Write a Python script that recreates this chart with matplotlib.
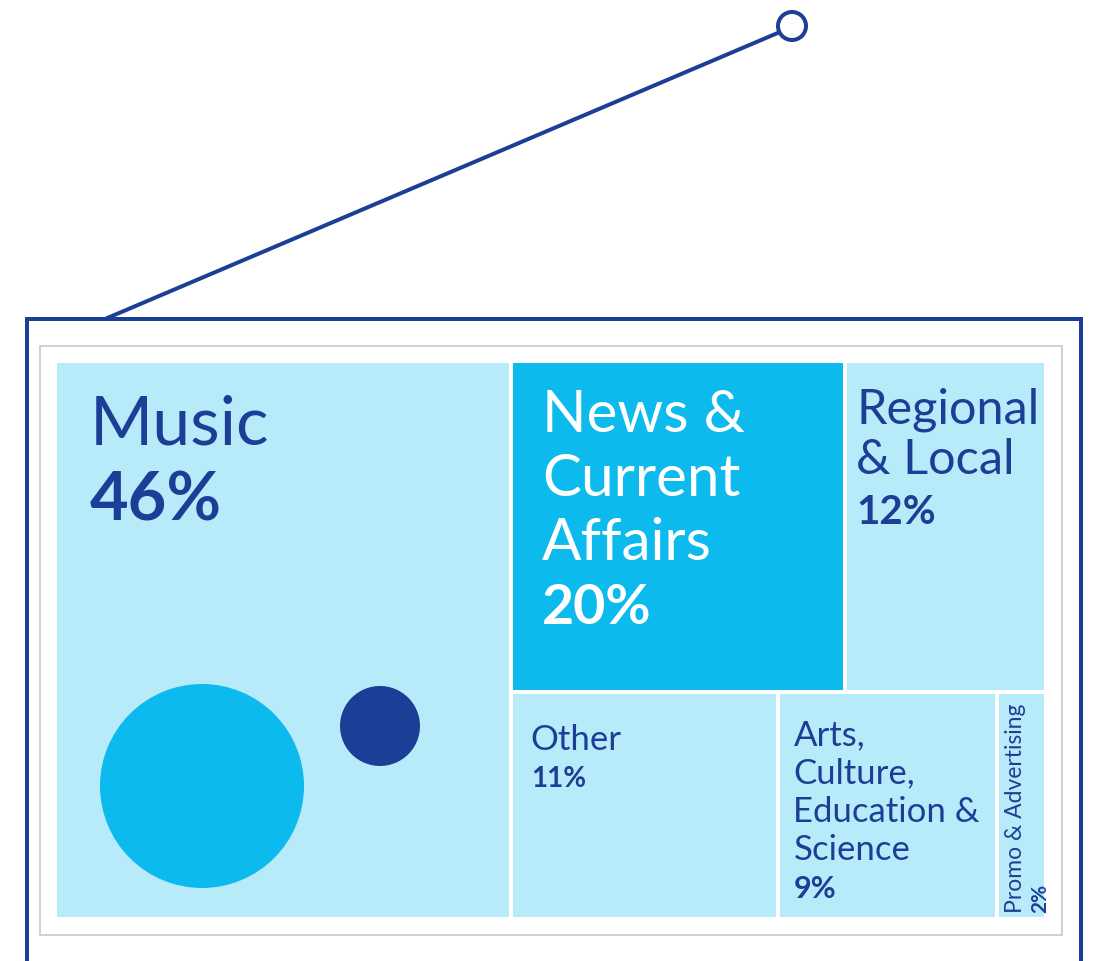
import matplotlib.pyplot as plt
from matplotlib.patches import Rectangle, Circle

# Share of radio output by genre (%)
labels = ["Music", "News &\nCurrent\nAffairs", "Regional\n& Local", "Other",
          "Arts,\nCulture,\nEducation &\nScience", "Promo & Advertising"]
values = [46, 20, 12, 11, 9, 2]
# treemap grouping: first tile fills the left column, rest split into two rows
rows = [[1, 2], [3, 4, 5]]

LIGHT = "#b8ebf9"
CYAN = "#0dbaee"
NAVY = "#1b3f96"

tile_colors = [LIGHT, CYAN, LIGHT, LIGHT, LIGHT, LIGHT]
text_colors = [NAVY, "white", NAVY, NAVY, NAVY, NAVY]
label_sizes = [49, 42, 35, 25, 25, 16.5]
pct_sizes = [48, 40, 29, 20, 22, 15]
# text layout inside each tile, pixels: left pad, first baseline, line step
pad_x = [35, 31, 11, 20, 15, 25]
first_base = [83, 70, 62, 57, 53, 7]
step = [76, 64, 50, 37, 38, 24]

W, H = 1095, 962
fig = plt.figure(figsize=(W / 100, H / 100), dpi=100)

# decoration layer in pixel coordinates
deco = fig.add_axes([0, 0, 1, 1])
deco.set_xlim(0, W)
deco.set_ylim(H, 0)
deco.axis("off")

lw = 4 * 72 / 100
deco.plot([105, 780], [320, 33], color=NAVY, lw=lw, solid_capstyle="round", zorder=1)
deco.add_patch(Circle((792, 27), 14, facecolor="white", edgecolor=NAVY, lw=lw, zorder=2))
deco.add_patch(Rectangle((27, 320), 1054, 700, facecolor="white", edgecolor=NAVY, lw=lw,
                         joinstyle="miter", zorder=1))
deco.add_patch(Rectangle((40, 347), 1022, 589, facecolor="white", edgecolor="#c8c8c8",
                         lw=1.2, zorder=1))

# treemap layer
x0, x1, y0, y1 = 55, 1046, 362, 920
ax = fig.add_axes([x0 / W, 1 - y1 / H, (x1 - x0) / W, (y1 - y0) / H])
total = sum(values)
ax.set_xlim(0, total)
ax.set_ylim(1, 0)
ax.axis("off")

rects = [(0, 0, values[0], 1)]
rest = total - values[0]
ytop = 0
for row in rows:
    row_sum = sum(values[i] for i in row)
    h = row_sum / rest
    x = values[0]
    for i in row:
        w = values[i] / row_sum * rest
        rects.append((x, ytop, w, h))
        x += w
    ytop += h
order = [0] + [i for r in rows for i in r]
tiles = dict(zip(order, rects))

FONT = "Lato"
for i in range(len(values)):
    x, y, w, h = tiles[i]
    ax.add_patch(Rectangle((x, y), w, h, facecolor=tile_colors[i], edgecolor="white",
                           lw=4 * 72 / 100, zorder=2))
    if i == 5:
        # narrow tile: rotated label, reading bottom to top
        ax.annotate(labels[i], (x, y + h), xytext=(pad_x[i], first_base[i]),
                    textcoords="offset pixels", rotation=90, ha="left", va="baseline",
                    rotation_mode="anchor", fontsize=label_sizes[i], family=FONT,
                    color=text_colors[i], zorder=3)
        ax.annotate(f"{values[i]}%", (x, y + h), xytext=(pad_x[i] + step[i], first_base[i]),
                    textcoords="offset pixels", rotation=90, ha="left", va="baseline",
                    rotation_mode="anchor", fontsize=pct_sizes[i], family=FONT,
                    weight="bold", color=text_colors[i], zorder=3)
        continue
    lines = labels[i].split("\n")
    for k, line in enumerate(lines):
        ax.annotate(line, (x, y), xytext=(pad_x[i], -first_base[i] - k * step[i]),
                    textcoords="offset pixels", ha="left", va="baseline",
                    fontsize=label_sizes[i], family=FONT, color=text_colors[i], zorder=3)
    ax.annotate(f"{values[i]}%", (x, y),
                xytext=(pad_x[i], -first_base[i] - len(lines) * step[i]),
                textcoords="offset pixels", ha="left", va="baseline", fontsize=pct_sizes[i],
                family=FONT, weight="bold", color=text_colors[i], zorder=3)

# decorative speaker circles inside the music tile
deco2 = fig.add_axes([0, 0, 1, 1], zorder=5)
deco2.set_xlim(0, W)
deco2.set_ylim(H, 0)
deco2.axis("off")
deco2.add_patch(Circle((202, 787), 102, facecolor=CYAN, edgecolor="none"))
deco2.add_patch(Circle((380, 727), 40, facecolor=NAVY, edgecolor="none"))

fig.savefig("out.png", dpi=100)
